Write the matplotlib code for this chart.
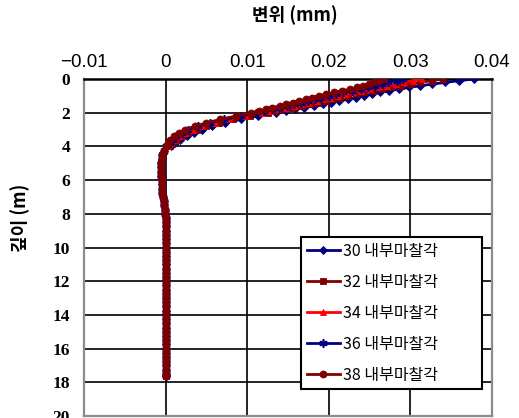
import matplotlib
matplotlib.use("Agg")
import matplotlib.pyplot as plt

# depth (m) — shared category axis for the upper, curved part
depth_top = [0.0, 0.1, 0.2, 0.3, 0.4, 0.5, 0.6, 0.7, 0.8, 0.9, 1.0,
             1.1, 1.2, 1.3, 1.4, 1.5, 1.6, 1.7, 1.8, 1.9, 2.0,
             2.2, 2.4, 2.6, 2.8, 3.0, 3.2, 3.4, 3.6, 3.8, 4.0]

# displacement (mm) for each friction angle, upper part
disp_30 = [0.0378, 0.0360, 0.0343, 0.0327, 0.0312, 0.0298, 0.0286, 0.0274, 0.0263, 0.0253, 0.0243,
           0.0233, 0.0223, 0.0213, 0.0203, 0.0193, 0.0182, 0.0170, 0.0159, 0.0147, 0.0135,
           0.0113, 0.0092, 0.0073, 0.0057, 0.0045, 0.0035, 0.0026, 0.0018, 0.0012, 0.0007]
disp_32 = [0.0340, 0.0326, 0.0312, 0.0300, 0.0288, 0.0276, 0.0265, 0.0254, 0.0243, 0.0233, 0.0224,
           0.0214, 0.0205, 0.0196, 0.0187, 0.0177, 0.0167, 0.0156, 0.0146, 0.0135, 0.0125,
           0.0104, 0.0083, 0.0065, 0.0050, 0.0038, 0.0028, 0.0020, 0.0014, 0.0009, 0.0005]
disp_34 = [0.0314, 0.0303, 0.0292, 0.0282, 0.0271, 0.0261, 0.0251, 0.0240, 0.0230, 0.0221, 0.0211,
           0.0202, 0.0193, 0.0185, 0.0176, 0.0167, 0.0158, 0.0147, 0.0138, 0.0128, 0.0118,
           0.0097, 0.0078, 0.0060, 0.0045, 0.0033, 0.0024, 0.0017, 0.0011, 0.0007, 0.0003]
disp_36 = [0.0291, 0.0283, 0.0273, 0.0265, 0.0257, 0.0248, 0.0239, 0.0228, 0.0218, 0.0209, 0.0200,
           0.0191, 0.0183, 0.0174, 0.0166, 0.0157, 0.0149, 0.0139, 0.0131, 0.0121, 0.0111,
           0.0092, 0.0072, 0.0055, 0.0040, 0.0028, 0.0020, 0.0013, 0.0009, 0.0005, 0.0001]
disp_38 = [0.0268, 0.0262, 0.0255, 0.0249, 0.0242, 0.0235, 0.0226, 0.0216, 0.0206, 0.0197, 0.0188,
           0.0180, 0.0172, 0.0164, 0.0156, 0.0148, 0.0140, 0.0131, 0.0123, 0.0114, 0.0105,
           0.0086, 0.0067, 0.0050, 0.0036, 0.0024, 0.0016, 0.0010, 0.0006, 0.0003, 0.0000]

# lower, nearly vertical part (all series overlap there)
depth_tail = [4.25, 4.5, 4.75, 5.0, 5.25, 5.5, 5.75, 6.0, 6.25, 6.5, 6.75, 7.0,
              7.25, 7.5, 7.75, 8.0, 8.25, 8.5, 8.75, 9.0, 9.25, 9.5, 9.75, 10.0,
              10.25, 10.5, 10.75, 11.0, 11.25, 11.5, 11.75, 12.0, 12.25, 12.5, 12.75, 13.0,
              13.25, 13.5, 13.75, 14.0, 14.25, 14.5, 14.75, 15.0, 15.25, 15.5, 15.75, 16.0,
              16.25, 16.5, 16.75, 17.0, 17.25, 17.5, 17.6]
disp_tail = [-0.0002, -0.0004, -0.0005, -0.0006, -0.0006, -0.0006, -0.0006, -0.0005, -0.0005, -0.0004, -0.0004, -0.0003,
             -0.0002, -0.0002, -0.0001, -0.0001, 0.0, 0.0, 0.0, 0.0, 0.0, 0.0, 0.0, 0.0,
             0.0, 0.0, 0.0, 0.0, 0.0, 0.0, 0.0, 0.0, 0.0, 0.0, 0.0, 0.0,
             0.0, 0.0, 0.0, 0.0, 0.0, 0.0, 0.0, 0.0, 0.0, 0.0, 0.0, 0.0,
             0.0, 0.0, 0.0, 0.0, 0.0, 0.0, 0.0]

labels = ["30 내부마찰각", "32 내부마찰각", "34 내부마찰각", "36 내부마찰각", "38 내부마찰각"]
series = [disp_30, disp_32, disp_34, disp_36, disp_38]
colors = ["#00007F", "#7F0000", "#FF0000", "#00007F", "#7F0000"]
markers = ["D", "s", "^", (6, 2, 0), "o"]
msizes = [4.0, 4.2, 4.8, 6.0, 5.0]

x_ticks = [-0.01, 0, 0.01, 0.02, 0.03, 0.04]
x_ticklabels = ["\u22120.01", "0", "0.01", "0.02", "0.03", "0.04"]
y_ticks = [0, 2, 4, 6, 8, 10, 12, 14, 16, 18, 20]

plt.rcParams['font.family'] = ['Noto Sans CJK KR', 'DejaVu Sans']

fig = plt.figure(figsize=(5.19, 4.18), dpi=100)
ax = fig.add_axes([84 / 519, 1 - 416 / 418, 408 / 519, 337 / 418])

for vals, lab, c, m, ms in zip(series, labels, colors, markers, msizes):
    ax.plot(vals + disp_tail, depth_top + depth_tail, color=c, lw=2.0,
            marker=m, markersize=ms, markeredgewidth=1.2 if m == (6, 2, 0) else 0.6,
            markeredgecolor=c, label=lab, zorder=3)

ax.set_xlim(-0.01, 0.04)
ax.set_ylim(20, 0)
ax.xaxis.tick_top()
ax.set_xticks(x_ticks)
ax.set_xticklabels(x_ticklabels, family=['Liberation Sans'], fontsize=13.5)
ax.set_yticks(y_ticks)
ax.set_yticklabels([str(v) for v in y_ticks], family=['Liberation Serif'],
                   fontweight='bold', fontsize=12.5)
ax.tick_params(axis='x', length=0, pad=6)
ax.tick_params(axis='y', length=0, pad=10)
ax.grid(True, color='black', lw=1.2, zorder=1)
ax.set_axisbelow(True)
for side in ['left', 'right', 'bottom']:
    ax.spines[side].set_color('#8c8c8c')
    ax.spines[side].set_linewidth(1.6)
ax.spines['top'].set_color('black')
ax.spines['top'].set_linewidth(1.8)

fig.text(295 / 519, 1 - 15 / 418, "변위 (mm)", ha='center', va='center',
         fontsize=13, fontweight='bold')
fig.text(20 / 519, 1 - 218 / 418, "깊이 (m)", ha='center', va='center',
         rotation=90, fontsize=13, fontweight='bold')

leg = ax.legend(loc='upper left', bbox_to_anchor=(0.532, 0.331, 0.443, 0.2),
                mode='expand', fontsize=11.5,
                frameon=True, fancybox=False, edgecolor='black', framealpha=1,
                borderpad=0.35, labelspacing=0.88, handlelength=2.1,
                handletextpad=0.2, borderaxespad=0)
leg.get_frame().set_linewidth(1.5)
leg.set_zorder(5)

fig.savefig("out.png", dpi=100)
